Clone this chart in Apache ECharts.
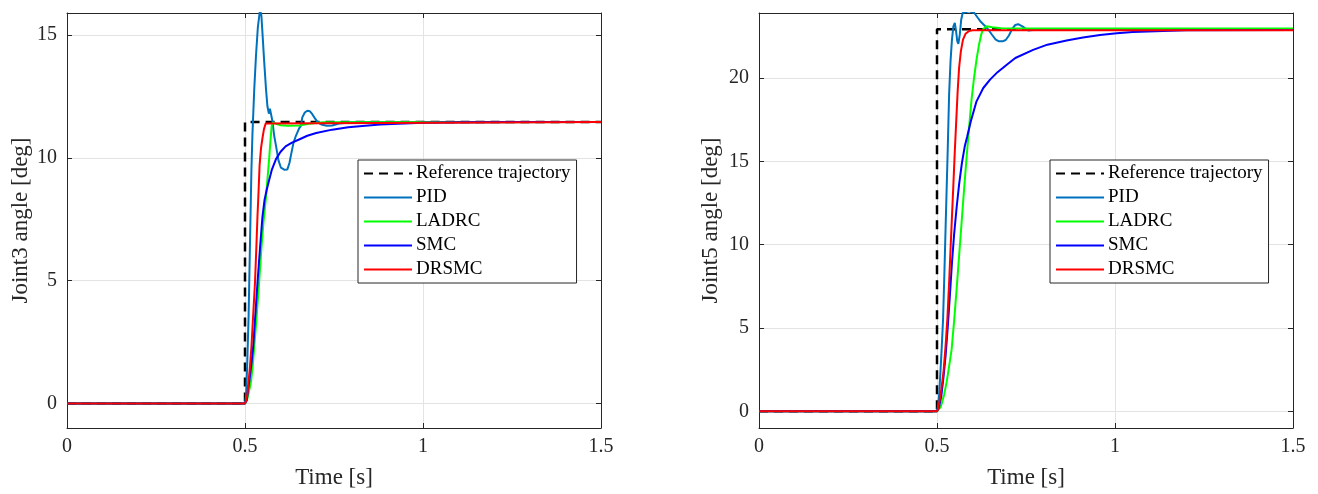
<!DOCTYPE html>
<html>
<head>
<meta charset="utf-8">
<script src="https://cdn.jsdelivr.net/npm/echarts@6/dist/echarts.min.js"></script>
<style>
html,body{margin:0;padding:0;background:#fff;}
#c{width:1318px;height:494px;}
</style>
</head>
<body>
<div id="c"></div>
<script>
// ---- Data (time [s], angle [deg]) ----
const seriesNames = ['Reference trajectory', 'PID', 'LADRC', 'SMC', 'DRSMC'];
const xTicks = [0, 0.5, 1, 1.5];
const yTicksJ3 = [0, 5, 10, 15];
const yTicksJ5 = [0, 5, 10, 15, 20];

const refJ3 = [[0,0],[0.5,0],[0.5,11.46],[1.5,11.46]];
const pidJ3 = [[0,0],[0.5,0],[0.503,0.3],[0.506,1.5],[0.51,3.5],[0.514,6.5],[0.518,9.5],[0.521,11.0],[0.526,12.8],[0.531,14.2],[0.536,15.3],[0.541,15.9],[0.543,16.0],[0.546,15.8],[0.549,15.1],[0.554,13.9],[0.559,12.8],[0.563,12.1],[0.567,11.8],[0.57,12.0],[0.573,12.05],[0.577,11.5],[0.582,10.9],[0.587,10.5],[0.594,9.9],[0.601,9.6],[0.61,9.52],[0.619,9.53],[0.625,9.8],[0.629,10.1],[0.636,10.6],[0.643,10.9],[0.652,11.2],[0.657,11.3],[0.661,11.65],[0.668,11.85],[0.675,11.92],[0.682,11.9],[0.689,11.78],[0.696,11.62],[0.703,11.48],[0.71,11.4],[0.717,11.35],[0.73,11.31],[0.745,11.32],[0.764,11.4],[0.8,11.45],[1.5,11.46]];
const ladrcJ3 = [[0,0],[0.5,0],[0.505,0.1],[0.51,0.4],[0.517,0.9],[0.522,1.6],[0.526,2.3],[0.533,3.6],[0.54,5.0],[0.546,6.3],[0.552,7.4],[0.559,8.4],[0.564,9.3],[0.568,10.0],[0.572,10.8],[0.575,11.3],[0.579,11.45],[0.585,11.4],[0.6,11.33],[0.62,11.31],[0.652,11.32],[0.68,11.39],[0.72,11.45],[1.5,11.46]];
const smcJ3 = [[0,0],[0.5,0],[0.505,0.15],[0.512,0.9],[0.518,1.6],[0.523,2.3],[0.529,3.6],[0.535,4.9],[0.542,6.3],[0.549,7.6],[0.555,8.3],[0.561,8.7],[0.567,9.05],[0.575,9.5],[0.587,9.95],[0.6,10.25],[0.614,10.47],[0.632,10.62],[0.652,10.75],[0.675,10.9],[0.7,11.01],[0.745,11.15],[0.79,11.25],[0.838,11.31],[0.88,11.36],[0.93,11.39],[1.0,11.43],[1.1,11.45],[1.25,11.46],[1.5,11.46]];
const drsmcJ3 = [[0,0],[0.5,0],[0.503,0.1],[0.507,0.4],[0.51,0.9],[0.514,1.5],[0.518,2.3],[0.523,3.6],[0.528,4.9],[0.532,6.4],[0.535,7.6],[0.538,8.6],[0.541,9.7],[0.545,10.4],[0.549,10.8],[0.553,11.15],[0.558,11.4],[0.563,11.46],[1.5,11.46]];

const refJ5 = [[0,0],[0.5,0],[0.5,22.92],[1.5,22.92]];
const pidJ5 = [[0,0],[0.5,0],[0.503,0.3],[0.506,1.0],[0.51,2.5],[0.513,3.7],[0.517,5.5],[0.52,7.7],[0.525,11.7],[0.53,15.6],[0.534,19.0],[0.538,21.0],[0.542,22.3],[0.546,23.1],[0.55,23.3],[0.553,22.9],[0.557,22.2],[0.56,22.05],[0.564,22.6],[0.568,23.5],[0.572,23.9],[0.576,24.0],[0.59,24.0],[0.605,23.9],[0.615,23.6],[0.623,23.37],[0.637,23.08],[0.646,22.85],[0.655,22.58],[0.665,22.3],[0.674,22.2],[0.684,22.2],[0.693,22.28],[0.702,22.55],[0.712,22.98],[0.72,23.18],[0.728,23.23],[0.74,23.1],[0.756,22.85],[0.77,22.88],[0.8,22.92],[1.5,22.92]];
const ladrcJ5 = [[0,0],[0.5,0],[0.505,0.05],[0.51,0.25],[0.515,0.6],[0.52,1.0],[0.527,1.75],[0.534,2.7],[0.541,3.7],[0.548,5.4],[0.555,7.3],[0.562,9.3],[0.569,11.3],[0.576,13.3],[0.583,15.2],[0.59,17.0],[0.597,18.7],[0.604,20.0],[0.611,21.1],[0.618,22.0],[0.624,22.6],[0.63,22.95],[0.64,23.1],[0.655,23.05],[0.68,22.99],[0.72,22.97],[1.5,22.97]];
const smcJ5 = [[0,0],[0.5,0],[0.505,0.2],[0.512,0.9],[0.518,2.0],[0.524,3.3],[0.53,5.0],[0.536,6.9],[0.542,8.9],[0.548,10.6],[0.555,12.2],[0.562,13.6],[0.57,14.9],[0.578,15.9],[0.585,16.5],[0.595,17.4],[0.611,18.6],[0.63,19.4],[0.649,19.9],[0.67,20.35],[0.696,20.8],[0.72,21.2],[0.77,21.69],[0.81,22.0],[0.864,22.25],[0.91,22.43],[0.958,22.58],[1.005,22.68],[1.05,22.76],[1.135,22.82],[1.2,22.86],[1.5,22.88]];
const drsmcJ5 = [[0,0],[0.5,0],[0.503,0.15],[0.507,0.6],[0.512,1.3],[0.518,2.3],[0.524,3.9],[0.529,5.5],[0.534,7.7],[0.538,9.7],[0.542,11.67],[0.546,13.6],[0.55,15.6],[0.554,17.4],[0.558,19.2],[0.562,20.6],[0.567,21.6],[0.573,22.3],[0.58,22.65],[0.59,22.82],[0.6,22.86],[1.5,22.86]];

// ---- Styling ----
const FONT = 'Liberation Serif';
const AX = '#262626';
const colors = ['#000000', '#0072BD', '#00FF00', '#0000FF', '#FF0000'];
const widths = [2.5, 2, 2, 2, 2];

const chart = echarts.init(document.getElementById('c'), null, {renderer: 'canvas'});

function xAx(gridIndex, pos, main) {
  return {
    type: 'value', gridIndex, position: pos, min: 0, max: 1.5, interval: 0.5,
    axisLine: {show: true, onZero: false, lineStyle: {color: AX, width: 1}},
    axisTick: {show: true, inside: true, length: 5, lineStyle: {color: AX}},
    axisLabel: {show: main, color: AX, fontFamily: FONT, fontSize: 20, margin: 9},
    splitLine: {show: main, lineStyle: {color: '#e3e3e3', width: 1}},
    name: main ? 'Time [s]' : '', nameLocation: 'middle', nameGap: 38,
    nameTextStyle: {color: AX, fontFamily: FONT, fontSize: 23}
  };
}
function yAx(gridIndex, pos, main, min, max, ticks, name, gap) {
  return {
    type: 'value', gridIndex, position: pos, min, max,
    axisLine: {show: true, onZero: false, lineStyle: {color: AX, width: 1}},
    axisTick: {show: true, inside: true, length: 5, customValues: ticks, lineStyle: {color: AX}},
    axisLabel: {show: main, customValues: ticks, color: AX, fontFamily: FONT, fontSize: 20, margin: 10},
    splitLine: {show: main, lineStyle: {color: '#e3e3e3', width: 1}},
    name: main ? name : '', nameLocation: 'middle', nameGap: gap,
    nameTextStyle: {color: AX, fontFamily: FONT, fontSize: 23}
  };
}
function mkSeries(arrs, xi, yi) {
  return arrs.map((d, i) => ({
    name: seriesNames[i], type: 'line', xAxisIndex: xi, yAxisIndex: yi,
    data: d, showSymbol: false, symbol: 'none', animation: false, clip: true,
    lineStyle: {color: colors[i], width: widths[i], type: i === 0 ? [9, 6] : 'solid'},
    itemStyle: {color: colors[i]}, z: 2 + i
  }));
}
function mkLegend(left) {
  return {
    left, top: 160, orient: 'vertical', data: seriesNames,
    backgroundColor: '#fff', borderColor: AX, borderWidth: 1,
    padding: [4, 6, 4, 5], itemWidth: 48, itemHeight: 14, itemGap: 5,
    itemStyle: {color: 'rgba(0,0,0,0)', borderWidth: 0, borderColor: 'rgba(0,0,0,0)'},
    textStyle: {color: '#000', fontFamily: FONT, fontSize: 19, lineHeight: 19, padding: [0, 0, 0, -1]},
    selectedMode: false
  };
}

chart.setOption({
  animation: false,
  backgroundColor: '#fff',
  grid: [
    {left: 67, right: 717, top: 13, bottom: 64},
    {left: 759, right: 25, top: 13, bottom: 64}
  ],
  xAxis: [xAx(0, 'bottom', true), xAx(1, 'bottom', true), xAx(0, 'top', false), xAx(1, 'top', false)],
  yAxis: [
    yAx(0, 'left', true, -1, 15.9, yTicksJ3, 'Joint3 angle [deg]', 35),
    yAx(1, 'left', true, -1, 23.9, yTicksJ5, 'Joint5 angle [deg]', 37),
    yAx(0, 'right', false, -1, 15.9, yTicksJ3, '', 0),
    yAx(1, 'right', false, -1, 23.9, yTicksJ5, '', 0)
  ],
  legend: [mkLegend(358), mkLegend(1050)],
  series: [].concat(
    mkSeries([refJ3, pidJ3, ladrcJ3, smcJ3, drsmcJ3], 0, 0),
    mkSeries([refJ5, pidJ5, ladrcJ5, smcJ5, drsmcJ5], 1, 1)
  )
});
</script>
</body>
</html>
